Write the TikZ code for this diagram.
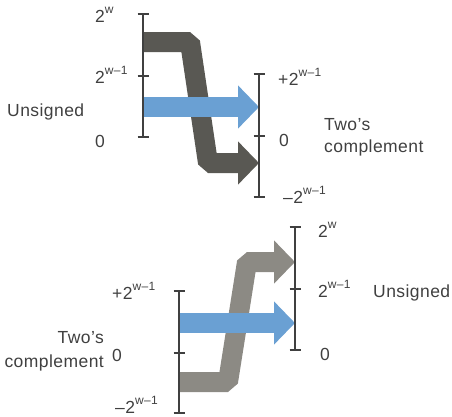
\documentclass[tikz,border=0pt]{standalone}
\usepackage{fontspec}
\setmainfont{Liberation Sans}[LetterSpace=2.5]
\usetikzlibrary{arrows.meta}
\definecolor{axisc}{HTML}{404040}
\definecolor{textc}{HTML}{404040}
\definecolor{darkarr}{HTML}{595853}
\definecolor{grayarr}{HTML}{8C8A84}
\definecolor{bluearr}{HTML}{6AA0D3}
\newcommand\sups[1]{\raisebox{0.5em}{\fontsize{12}{13}\selectfont #1}}
\begin{document}
\begin{tikzpicture}[x=1pt,y=-1pt,
  axisline/.style={draw=axisc,line width=2.5pt},
  tickmark/.style={draw=axisc,line width=2.5pt},
  fatarrow/.style={line width=20pt,line join=bevel,-{Triangle[length=21pt,width=42pt]}},
  lbl/.style={font=\fontsize{17.5}{20}\selectfont,text=textc,inner sep=0pt},
]
\useasboundingbox (0,0) rectangle (452,416);

% ---------- top diagram ----------
\coordinate (LAt) at (143,14);
\coordinate (LAm) at (143,76);
\coordinate (LAb) at (143,137);
\coordinate (RAt) at (259,74);
\coordinate (RAm) at (259,136);
\coordinate (RAb) at (259,197);

\coordinate (d1) at (143,42);
\coordinate (d2) at (190,42);
\coordinate (d3) at (208,163);
\coordinate (d4) at (259,163);
\draw[fatarrow,darkarr] (d1) -- (d2) -- (d3) -- (d4);

\coordinate (b1) at (143,107);
\coordinate (b2) at (259,107);
\draw[fatarrow,bluearr] (b1) -- (b2);

\draw[axisline] (LAt) -- (LAb);
\draw[axisline] (RAt) -- (RAb);
\foreach \c in {LAt,LAm,LAb,RAt,RAm,RAb}
  \draw[tickmark] ([xshift=-5.5pt]\c) -- ([xshift=5.5pt]\c);

\node[lbl,anchor=base west] (t1) at (95,22.5) {2\sups{w}};
\node[lbl,anchor=base west] (t2) at (95,83) {2\sups{w–1}};
\node[lbl,anchor=base west] (t3) at (95,147) {0};
\node[lbl,anchor=base west] (t4) at (7,116) {Unsigned};
\node[lbl,anchor=base west] (t5) at (278,85) {+2\sups{w–1}};
\node[lbl,anchor=base west] (t6) at (279,146) {0};
\node[lbl,anchor=base west] (t7) at (283,203) {–2\sups{w–1}};
\node[lbl,anchor=base west] (t8) at (324,130) {Two’s};
\node[lbl,anchor=base west] (t9) at (324,152) {complement};

% ---------- bottom diagram ----------
\coordinate (LBt) at (179,291);
\coordinate (LBm) at (179,353);
\coordinate (LBb) at (179,413);
\coordinate (RBt) at (295,227);
\coordinate (RBm) at (295,289);
\coordinate (RBb) at (295,350);

\coordinate (g1) at (179,382);
\coordinate (g2) at (228,382);
\coordinate (g3) at (247,262);
\coordinate (g4) at (295,262);
\draw[fatarrow,grayarr] (g1) -- (g2) -- (g3) -- (g4);

\coordinate (c1) at (179,323);
\coordinate (c2) at (295,323);
\draw[fatarrow,bluearr] (c1) -- (c2);

\draw[axisline] (LBt) -- (LBb);
\draw[axisline] (RBt) -- (RBb);
\foreach \c in {LBt,LBm,LBb,RBt,RBm,RBb}
  \draw[tickmark] ([xshift=-5.5pt]\c) -- ([xshift=5.5pt]\c);

\node[lbl,anchor=base west] (u1) at (112,299) {+2\sups{w–1}};
\node[lbl,anchor=base east] (u2) at (104,343) {Two’s};
\node[lbl,anchor=base east] (u3) at (104,367) {complement};
\node[lbl,anchor=base west] (u4) at (112,361) {0};
\node[lbl,anchor=base west] (u5) at (115,413) {–2\sups{w–1}};
\node[lbl,anchor=base west] (u6) at (318,237) {2\sups{w}};
\node[lbl,anchor=base west] (u7) at (318,297) {2\sups{w–1}};
\node[lbl,anchor=base west] (u8) at (373,297) {Unsigned};
\node[lbl,anchor=base west] (u9) at (320,360) {0};
\end{tikzpicture}
\end{document}
